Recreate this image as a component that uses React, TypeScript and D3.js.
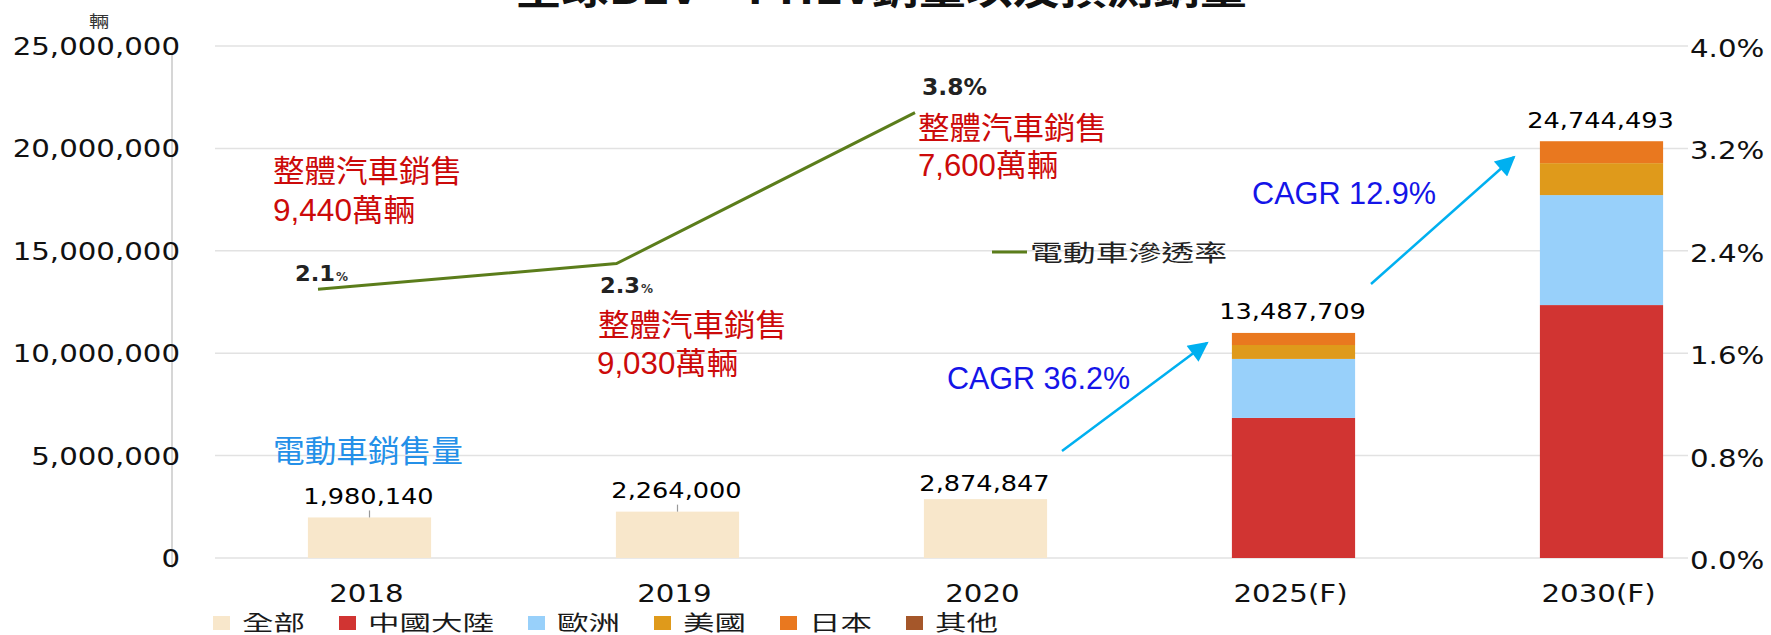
import React from "react";
import * as d3 from "d3";

const categories = ["2018", "2019", "2020", "2025(F)", "2030(F)"];
const seriesKeys = ["全部", "中國大陸", "歐洲", "美國", "日本", "其他"];
const allValues = [1980140, 2264000, 2874847, 0, 0];
const chinaValues = [0, 0, 0, 6840000, 12350000];
const europeValues = [0, 0, 0, 2880000, 5370000];
const usaValues = [0, 0, 0, 680000, 1560000];
const japanValues = [0, 0, 0, 590000, 1070000];
const otherValues = [0, 0, 0, 0, 0];
const totalLabels = ["1,980,140", "2,264,000", "2,874,847", "13,487,709", "24,744,493"];
const whiskerBars = ["2018", "2019"];
const leftTicks = [0, 5000000, 10000000, 15000000, 20000000, 25000000];
const rightTicks = [0, 0.008, 0.016, 0.024, 0.032, 0.04];
const lineYears = ["2018", "2019", "2020"];
const penetration = [0.021, 0.023, 0.0348];
const penetrationLabels = ["2.1", "2.3", "3.8%"];
const seriesColors = ["#f8e7cb", "#d13432", "#98d0fa", "#df9a1b", "#e9781f", "#a5572a"];
const carSalesTitle = "整體汽車銷售";
const carSalesNotes = ["9,440萬輛", "9,030萬輛", "7,600萬輛"];
const cagrNotes = ["CAGR 36.2%", "CAGR 12.9%"];

const NUM = "'DejaVu Sans', Verdana, sans-serif";
const CJK = "'Noto Sans CJK TC', 'Noto Sans CJK SC', sans-serif";
const RED = "'Liberation Sans', 'Noto Sans CJK TC', sans-serif";
const SX = 1.22;

function SText(props: any) {
  const { x, y, anchor = "start", size, fill = "#1a1a1a", weight = "normal", family = NUM, sx = SX, children } = props;
  return (
    <text
      transform={`translate(${x},${y}) scale(${sx},1)`}
      textAnchor={anchor}
      fontSize={size}
      fill={fill}
      fontWeight={weight}
      fontFamily={family}
      dy="0.36em"
    >
      {children}
    </text>
  );
}

function LText(props: any) {
  const { x, y, w, size, fill, family = CJK, weight = "normal", anchor = "start", baseline = "central", children } = props;
  return (
    <text
      x={x}
      y={y}
      fontSize={size}
      fill={fill}
      fontFamily={family}
      fontWeight={weight}
      textAnchor={anchor}
      dominantBaseline={baseline}
      textLength={w}
      lengthAdjust="spacingAndGlyphs"
    >
      {children}
    </text>
  );
}

export default function App() {
  const W = 1771;
  const H = 635;
  const x = d3.scaleBand<string>().domain(categories).range([215.5, 1755.5]).paddingInner(0.6).paddingOuter(0.3);
  const y = d3.scaleLinear().domain([0, 25000000]).range([558, 46]);
  const yPct = d3.scaleLinear().domain([0, 0.04]).range([558, 46]);
  const xLine = d3.scalePoint<string>().domain(lineYears).range([318, 915]);

  const rows = categories.map((c, i) => ({
    cat: c,
    全部: allValues[i],
    中國大陸: chinaValues[i],
    歐洲: europeValues[i],
    美國: usaValues[i],
    日本: japanValues[i],
    其他: otherValues[i],
  }));
  const stacked = d3.stack<any>().keys(seriesKeys)(rows);
  const totals = rows.map((r: any) => seriesKeys.reduce((s, k) => s + r[k], 0));

  const linePath = d3
    .line<number>()
    .x((_, i) => xLine(lineYears[i]) as number)
    .y((d) => yPct(d))(penetration);

  const gridX0 = 215;
  const gridX1 = 1688;

  const legendItems: { key: string; color: string; sx: number; tx: number; tw: number }[] = [];
  let lx = 213;
  seriesKeys.forEach((k, i) => {
    const tw = k.length * 31.5;
    legendItems.push({ key: k, color: seriesColors[i], sx: lx, tx: lx + 29, tw });
    lx = lx + 29 + tw + 34;
  });

  const arrowColor = "#00b0f0";

  return (
    <div style={{ position: "absolute", left: 0, top: 0 }}>
      <svg width={W} height={H} style={{ display: "block", background: "#fff" }}>
        <defs>
          <marker
            id="arrowHead"
            viewBox="0 0 10 10"
            refX={9}
            refY={5}
            markerWidth={22}
            markerHeight={20}
            markerUnits="userSpaceOnUse"
            orient="auto"
          >
            <path d="M0,0 L10,5 L0,10 z" fill={arrowColor} />
          </marker>
        </defs>

        {/* title (cut at top, as in the reference) */}
        <LText x={515} y={4} w={732} size={40} fill="#111" weight="bold" baseline="alphabetic">
          全球BEV + PHEV銷量以及預測銷量
        </LText>

        {/* gridlines */}
        {leftTicks.map((t) => (
          <line key={"g" + t} x1={gridX0} x2={gridX1} y1={y(t)} y2={y(t)} stroke="#e2e2e2" strokeWidth={1.5} />
        ))}

        {/* left axis line */}
        <line x1={172} x2={172} y1={53} y2={568} stroke="#c9c9c9" strokeWidth={1.5} />

        {/* left axis labels */}
        {leftTicks.map((t) => (
          <SText key={"l" + t} x={180} y={y(t)} anchor="end" size={25} sx={1.17} fill="#111">
            {d3.format(",")(t)}
          </SText>
        ))}
        <text x={99} y={20} fontSize={16} fill="#333" fontFamily={CJK} textAnchor="middle" dominantBaseline="central" transform="translate(99,20) scale(1.25,1) translate(-99,-20)">
          輛
        </text>

        {/* right axis labels */}
        {rightTicks.map((t) => (
          <SText key={"r" + t} x={1690} y={yPct(t) + 2} anchor="start" size={25} sx={1.17} fill="#111">
            {d3.format(".1%")(t)}
          </SText>
        ))}

        {/* bars */}
        {stacked.map((s, si) =>
          s.map((d: any, i: number) => {
            const h = y(d[0]) - y(d[1]);
            if (h <= 0) return null;
            return (
              <rect
                key={si + "-" + i}
                x={x(categories[i])}
                y={y(d[1])}
                width={x.bandwidth()}
                height={h}
                fill={seriesColors[si]}
              />
            );
          })
        )}

        {/* whiskers above first bars */}
        {whiskerBars.map((c) => {
          const i = categories.indexOf(c);
          const cx = (x(c) as number) + x.bandwidth() / 2;
          return <line key={"w" + c} x1={cx} x2={cx} y1={y(totals[i])} y2={y(totals[i]) - 7} stroke="#999" strokeWidth={1.2} />;
        })}

        {/* total labels */}
        {categories.map((c, i) => (
          <SText
            key={"t" + c}
            x={(x(c) as number) + x.bandwidth() / 2 - 1}
            y={y(totals[i]) - (i === 2 ? 16 : 21)}
            anchor="middle"
            size={21}
            fill="#000"
          >
            {totalLabels[i]}
          </SText>
        ))}

        {/* x axis labels */}
        {categories.map((c) => (
          <SText key={"x" + c} x={(x(c) as number) + x.bandwidth() / 2 - 3} y={593} anchor="middle" size={24} fill="#111">
            {c}
          </SText>
        ))}

        {/* penetration line */}
        <path d={linePath as string} fill="none" stroke="#5b7d1b" strokeWidth={3} />

        {/* penetration labels */}
        <text x={295} y={281} fontSize={22} fontWeight="bold" fill="#222" fontFamily={NUM} textLength={40} lengthAdjust="spacingAndGlyphs">
          {penetrationLabels[0]}
        </text>
        <text x={336} y={281} fontSize={12} fontWeight="bold" fill="#333" fontFamily={NUM}>%</text>
        <text x={600} y={293} fontSize={22} fontWeight="bold" fill="#222" fontFamily={NUM} textLength={40} lengthAdjust="spacingAndGlyphs">
          {penetrationLabels[1]}
        </text>
        <text x={641} y={293} fontSize={12} fontWeight="bold" fill="#333" fontFamily={NUM}>%</text>
        <text x={922} y={95} fontSize={23} fontWeight="bold" fill="#222" fontFamily={NUM} textLength={65} lengthAdjust="spacingAndGlyphs">
          {penetrationLabels[2]}
        </text>

        {/* line legend */}
        <line x1={992} x2={1027} y1={252} y2={252} stroke="#5b7d1b" strokeWidth={3} />
        <LText x={1030} y={251} w={197} size={23} fill="#222">
          電動車滲透率
        </LText>

        {/* red notes */}
        <LText x={273} y={171} w={189} size={31} fill="#cc0a0a" family={RED}>{carSalesTitle}</LText>
        <LText x={273} y={210} w={142} size={31} fill="#cc0a0a" family={RED}>{carSalesNotes[0]}</LText>
        <LText x={598} y={325} w={189} size={31} fill="#cc0a0a" family={RED}>{carSalesTitle}</LText>
        <LText x={597} y={363} w={141} size={31} fill="#cc0a0a" family={RED}>{carSalesNotes[1]}</LText>
        <LText x={918} y={128} w={189} size={31} fill="#cc0a0a" family={RED}>{carSalesTitle}</LText>
        <LText x={918} y={165} w={140} size={31} fill="#cc0a0a" family={RED}>{carSalesNotes[2]}</LText>

        {/* blue series note */}
        <LText x={273} y={448} w={190} size={31} fill="#2490e8">電動車銷售量</LText>

        {/* CAGR arrows */}
        <line x1={1062} y1={451} x2={1207} y2={343} stroke={arrowColor} strokeWidth={2.5} markerEnd="url(#arrowHead)" />
        <line x1={1371} y1={284} x2={1514} y2={157} stroke={arrowColor} strokeWidth={2.5} markerEnd="url(#arrowHead)" />
        <LText x={947} y={378} w={183} size={32} fill="#1414e8" family={RED}>{cagrNotes[0]}</LText>
        <LText x={1252} y={193} w={184} size={32} fill="#1414e8" family={RED}>{cagrNotes[1]}</LText>

        {/* legend */}
        {legendItems.map((it) => (
          <g key={"lg" + it.key}>
            <rect x={it.sx} y={616} width={17} height={14} fill={it.color} />
            <LText x={it.tx} y={621} w={it.tw} size={21} fill="#1a1a1a">{it.key}</LText>
          </g>
        ))}
      </svg>
    </div>
  );
}
